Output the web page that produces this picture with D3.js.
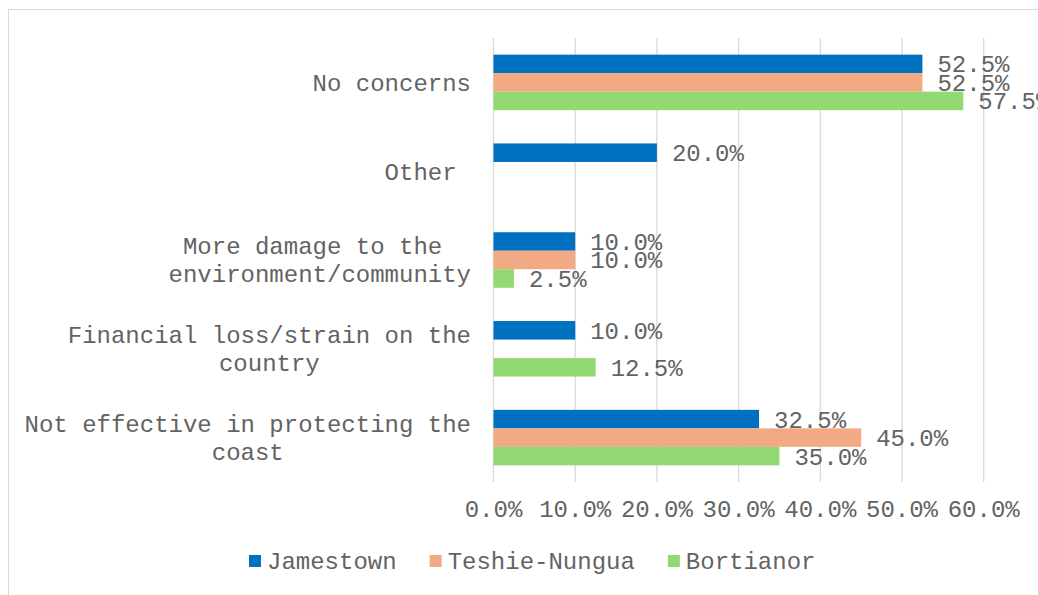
<!DOCTYPE html>
<html lang="en">
  <head>
    <meta charset="utf-8">
    <title>Concerns by community</title>
    <script src="https://d3js.org/d3.v7.js"></script>
    <style>
    body {margin: 0; background: white;}
    text {font-family: "Liberation Mono", "Courier New", monospace; fill: #636363; white-space: pre;}
    </style>
  </head>
  <body>
  <script>

  // data
  var categories = [
    ["No concerns"],
    ["Other "],
    ["More damage to the ", "environment/community"],
    ["Financial loss/strain on the", "country"],
    ["Not effective in protecting the", "coast"]
  ];
  var seriesNames = ["Jamestown", "Teshie-Nungua", "Bortianor"];
  var jamestown = [52.5, 20.0, 10.0, 10.0, 32.5];
  var teshie = [52.5, null, 10.0, null, 45.0];
  var bortianor = [57.5, null, 2.5, 12.5, 35.0];
  var ticks = [0, 10, 20, 30, 40, 50, 60];
  var colors = ["#0070C0", "#F2AA84", "#92D873"];

  var w = 1038, h = 595;
  var margin = {top: 38, left: 493.5, right: 1038 - 983.7, bottom: 595 - 482};

  var svg = d3.select("body").append("svg")
      .attr("width", w)
      .attr("height", h);

  // chart border (only top/left visible in the crop)
  svg.append("rect")
     .attr("x", 8.5).attr("y", 9.5)
     .attr("width", 1060).attr("height", 620)
     .attr("fill", "none")
     .attr("stroke", "#d9d9d9");

  var keys = categories.map((d, i) => i);
  var yScale = d3.scaleBand()
      .domain(keys)
      .range([margin.top, h - margin.bottom])
      .paddingInner(0.375)
      .paddingOuter(0.1875);

  var ySub = d3.scaleBand()
      .domain([0, 1, 2])
      .range([0, yScale.bandwidth()]);

  var xScale = d3.scaleLinear()
      .domain([0, 60])
      .range([margin.left, w - margin.right]);

  // gridlines
  svg.append("g")
     .selectAll("line")
     .data(ticks)
     .join("line")
     .attr("x1", d => xScale(d)).attr("x2", d => xScale(d))
     .attr("y1", margin.top).attr("y2", h - margin.bottom)
     .attr("stroke", "#d9d9d9")
     .attr("stroke-width", 1.3);

  // tick labels
  svg.append("g")
     .selectAll("text")
     .data(ticks)
     .join("text")
     .attr("x", d => xScale(d))
     .attr("y", 517)
     .attr("text-anchor", "middle")
     .style("font-size", "24px")
     .text(d => d.toFixed(1) + "%");

  var series = [jamestown, teshie, bortianor];
  var bars = [];
  series.forEach(function(vals, s) {
    vals.forEach(function(v, c) {
      if (v !== null) bars.push({s: s, c: c, v: v});
    });
  });

  svg.append("g")
     .selectAll("rect")
     .data(bars)
     .join("rect")
     .attr("x", xScale(0))
     .attr("y", d => yScale(d.c) + ySub(d.s))
     .attr("width", d => xScale(d.v) - xScale(0))
     .attr("height", ySub.bandwidth())
     .attr("fill", d => colors[d.s]);

  svg.append("g")
     .selectAll("text")
     .data(bars)
     .join("text")
     .attr("x", d => xScale(d.v) + 15)
     .attr("y", d => yScale(d.c) + ySub(d.s) + ySub.bandwidth() / 2)
     .attr("dy", "0.35em")
     .style("font-size", "24px")
     .text(d => d.v.toFixed(1) + "%");

  // category labels: wrapped lines centred, block right-aligned
  var labelRight = 471;
  var lineH = 28;
  categories.forEach(function(lines, c) {
    var cy = yScale(c) + yScale.bandwidth() / 2;
    var t = svg.append("text")
       .attr("text-anchor", "middle")
       .style("font-size", "24px");
    var spans = lines.map(function(line, i) {
      return t.append("tspan")
        .attr("y", cy + (i - (lines.length - 1) / 2) * lineH)
        .attr("dy", "0.35em")
        .text(line);
    });
    var maxW = d3.max(spans, s => s.node().getComputedTextLength());
    spans.forEach(s => s.attr("x", labelRight - maxW / 2));
  });

  // legend
  var legend = svg.append("g");
  var lx = 249;
  seriesNames.forEach(function(name, i) {
    legend.append("rect")
      .attr("x", lx).attr("y", 555)
      .attr("width", 12).attr("height", 12)
      .attr("fill", colors[i]);
    var txt = legend.append("text")
      .attr("x", lx + 18)
      .attr("y", 561)
      .attr("dy", "0.35em")
      .style("font-size", "24px")
      .text(name);
    lx = lx + 18 + txt.node().getComputedTextLength() + 33;
  });

  </script>
  </body>
</html>
